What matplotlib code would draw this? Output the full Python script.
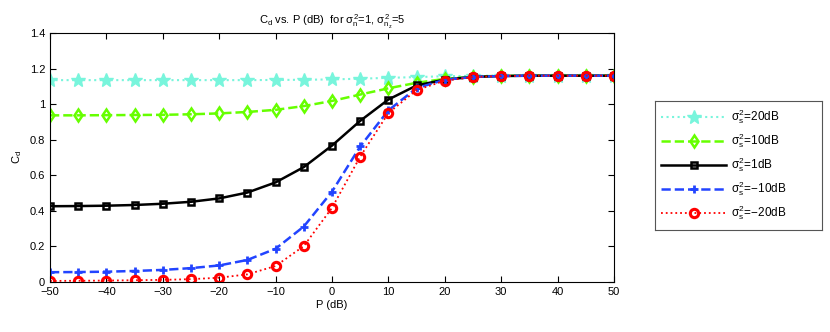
import numpy as np
import matplotlib.pyplot as plt

plt.rcParams['font.family'] = ['Liberation Sans', 'DejaVu Sans']
plt.rcParams['mathtext.fontset'] = 'custom'
plt.rcParams['mathtext.rm'] = 'Liberation Sans'
plt.rcParams['mathtext.it'] = 'Liberation Sans'

P = np.arange(-50, 55, 5)

cd_20 = [1.135, 1.135, 1.135, 1.135, 1.135, 1.135, 1.135, 1.135, 1.136, 1.137, 1.139,
         1.143, 1.148, 1.152, 1.157, 1.159, 1.16, 1.16, 1.16, 1.16, 1.16]
cd_10 = [0.937, 0.937, 0.938, 0.939, 0.940, 0.943, 0.948, 0.956, 0.968, 0.989, 1.018,
         1.054, 1.089, 1.12, 1.142, 1.155, 1.159, 1.16, 1.16, 1.16, 1.16]
cd_1 = [0.426, 0.427, 0.429, 0.433, 0.440, 0.451, 0.470, 0.503, 0.560, 0.646, 0.767,
        0.906, 1.026, 1.105, 1.138, 1.153, 1.158, 1.16, 1.16, 1.16, 1.16]
cd_m10 = [0.055, 0.056, 0.058, 0.062, 0.068, 0.078, 0.093, 0.124, 0.187, 0.312, 0.508,
          0.762, 0.965, 1.09, 1.137, 1.153, 1.158, 1.16, 1.16, 1.16, 1.16]
cd_m20 = [0.006, 0.007, 0.008, 0.010, 0.012, 0.016, 0.024, 0.043, 0.090, 0.202, 0.417,
          0.705, 0.950, 1.079, 1.132, 1.152, 1.158, 1.16, 1.16, 1.16, 1.16]

fig = plt.figure(figsize=(8.3, 3.32), dpi=100)
ax = fig.add_axes([50/830, 1-282/332, 564/830, 249/332])

ax.plot(P, cd_20, ':', color='#78F5DC', lw=1.5, marker='*', ms=10, label=r'$\sigma_s^2$=20dB')
ax.plot(P, cd_10, '--', color='#66FF00', lw=1.8, marker='d', ms=6, mfc='none', mew=1.8,
        label=r'$\sigma_s^2$=10dB')
ax.plot(P, cd_1, '-', color='black', lw=1.8, marker='s', ms=5, mfc='none', mew=1.8,
        label=r'$\sigma_s^2$=1dB')
ax.plot(P, cd_m10, '--', color='#2244FF', lw=1.8, marker='+', ms=6, mew=2,
        label=r'$\sigma_s^2$=$-$10dB')
ax.plot(P, cd_m20, ':', color='red', lw=1.3, marker='o', ms=6, mfc='none', mew=2.2,
        label=r'$\sigma_s^2$=$-$20dB')

ax.set_xlim(-50, 50)
ax.set_ylim(0, 1.4)
ax.set_xticks(np.arange(-50, 60, 10))
ax.set_yticks(np.arange(0, 1.6, 0.2))
ax.set_yticklabels(['0', '0.2', '0.4', '0.6', '0.8', '1', '1.2', '1.4'])
ax.tick_params(direction='in', top=True, right=True, labelsize=8, length=4)
ax.set_xlabel('P (dB)', fontsize=8, labelpad=2)
ax.set_ylabel(r'C$_\mathregular{d}$', fontsize=8)
ax.set_title(r'C$_\mathregular{d}$ vs. P (dB)  for $\sigma_n^2$=1, $\sigma_{n_z}^2$=5', fontsize=8)

# legend box drawn as its own empty axes, matlab style
lax = fig.add_axes([655/830, 1-230/332, 167/830, 129/332])
lax.set_xticks([])
lax.set_yticks([])
for sp in lax.spines.values():
    sp.set_color('#555555')
handles, labels = ax.get_legend_handles_labels()
lax.legend(handles, labels, loc='upper left', bbox_to_anchor=(0, 1), frameon=False,
           fontsize=8.5, handlelength=5.5, handletextpad=0.4, borderpad=0.55,
           labelspacing=0.45, borderaxespad=0)

plt.savefig('out.png', dpi=100)
